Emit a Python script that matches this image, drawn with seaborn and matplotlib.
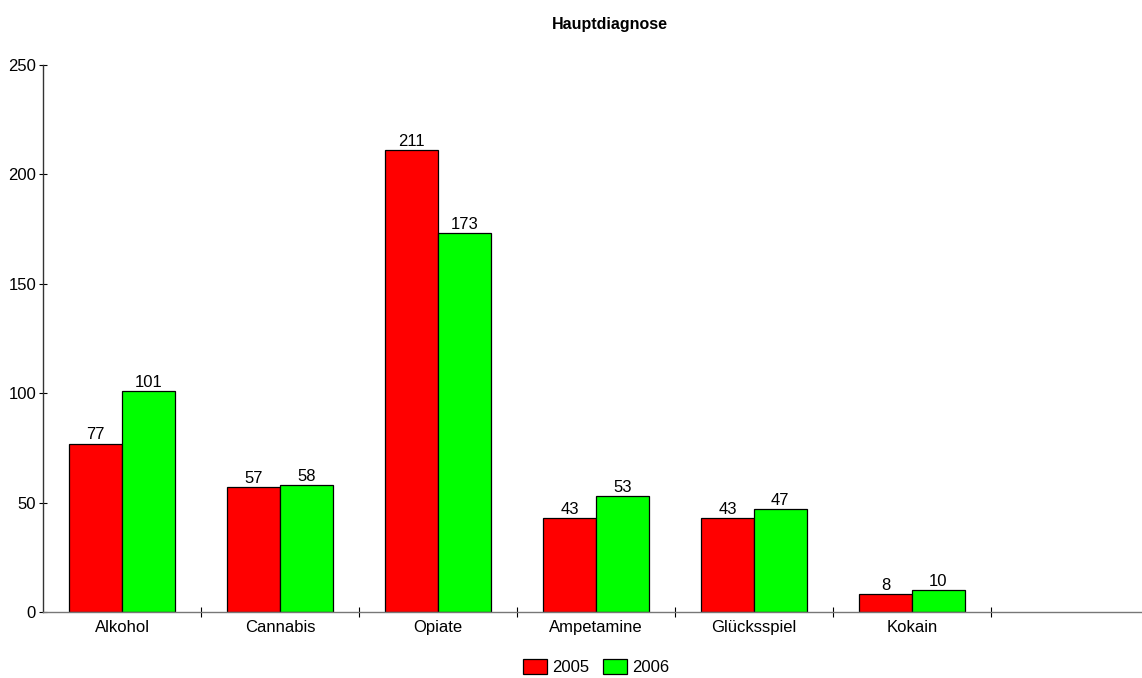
import matplotlib
matplotlib.use("Agg")
import matplotlib.pyplot as plt
import seaborn as sns
import pandas as pd
from matplotlib.ticker import FixedLocator, NullFormatter

categories = ["Alkohol", "Cannabis", "Opiate", "Ampetamine", "Glücksspiel", "Kokain"]
years = ["2005", "2006"]
values_2005 = [77, 57, 211, 43, 43, 8]
values_2006 = [101, 58, 173, 53, 47, 10]
y_ticks = [0, 50, 100, 150, 200, 250]
title = "Hauptdiagnose"

sns.set_theme(style="white")
plt.rcParams["font.family"] = ["Liberation Sans", "DejaVu Sans"]
plt.rcParams["text.color"] = "black"
plt.rcParams["xtick.color"] = "black"
plt.rcParams["ytick.color"] = "black"

df = pd.DataFrame({
    "Kategorie": categories * 2,
    "Jahr": [years[0]] * len(categories) + [years[1]] * len(categories),
    "Anzahl": values_2005 + values_2006,
})

fig = plt.figure(figsize=(11.42, 6.78), dpi=100)
ax = fig.add_axes([43 / 1142, 1 - 612 / 678, 1 - 43 / 1142, (612 - 65) / 678])

sns.barplot(data=df, x="Kategorie", y="Anzahl", hue="Jahr", order=categories,
            hue_order=years, palette=["#ff0000", "#00ff00"], width=0.667,
            edgecolor="black", linewidth=0.9, saturation=1, ax=ax, legend=True)

for container in ax.containers:
    ax.bar_label(container, fmt="%d", padding=1, fontsize=12, color="black")

# one empty slot after the last category, cut at the figure edge
ax.set_xlim(-0.5, (1142 - 43) / 158 - 0.5)
ax.set_ylim(0, 250)
ax.set_yticks(y_ticks)
ax.set_yticklabels([str(t) for t in y_ticks], fontsize=12)
ax.tick_params(axis="y", which="major", direction="inout", length=6, width=0.8,
               left=True, pad=2)
ax.set_xticks(range(len(categories)))
ax.set_xticklabels(categories, fontsize=12)
ax.tick_params(axis="x", which="major", length=0, pad=6)
ax.xaxis.set_minor_locator(FixedLocator([i + 0.5 for i in range(len(categories))]))
ax.xaxis.set_minor_formatter(NullFormatter())
ax.tick_params(axis="x", which="minor", direction="inout", length=7, width=0.8,
               bottom=True)

for side in ("top", "right"):
    ax.spines[side].set_visible(False)
ax.spines["left"].set_color("#333333")
ax.spines["left"].set_linewidth(1.0)
ax.spines["bottom"].set_color("#777777")
ax.spines["bottom"].set_linewidth(1.0)

ax.set_xlabel("")
ax.set_ylabel("")
fig.text(610 / 1142, 1 - 24 / 678, title, ha="center", va="center",
         fontsize=11.5, fontweight="bold", color="black")

leg = ax.legend(loc="center", bbox_to_anchor=(596 / 1142, 1 - 667 / 678),
                bbox_transform=fig.transFigure, ncol=2, frameon=False,
                fontsize=12, handlelength=1.45, handleheight=1.0,
                handletextpad=0.3, columnspacing=0.8)

fig.savefig("out.png", dpi=100)
